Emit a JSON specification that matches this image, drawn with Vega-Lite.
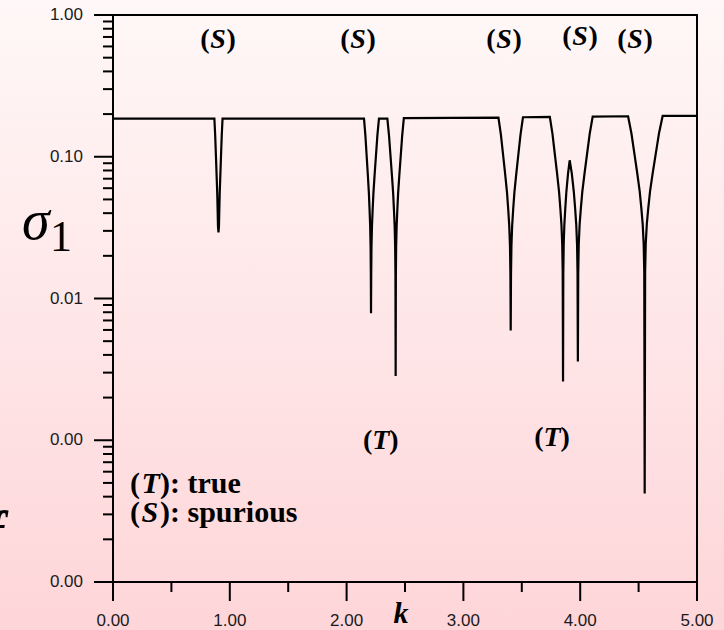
{
  "$schema": "https://vega.github.io/schema/vega-lite/v6.json",
  "width": 584,
  "height": 567,
  "autosize": {"type": "none"},
  "padding": {"left": 113, "top": 15, "right": 27, "bottom": 48},
  "background": "#fde8ea",
  "config": {"view": {"stroke": null}},
  "datasets": {
    "sigma": [
      {"k": 0, "s": 0.186}, {"k": 0.868, "s": 0.186}, {"k": 0.875, "s": 0.141}, {"k": 0.882, "s": 0.0976},
      {"k": 0.887, "s": 0.074}, {"k": 0.8925, "s": 0.0549}, {"k": 0.896, "s": 0.0416}, {"k": 0.8988, "s": 0.0323},
      {"k": 0.903, "s": 0.0292}, {"k": 0.9072, "s": 0.0323}, {"k": 0.91, "s": 0.0416}, {"k": 0.9135, "s": 0.0549},
      {"k": 0.919, "s": 0.074}, {"k": 0.924, "s": 0.0976}, {"k": 0.931, "s": 0.141}, {"k": 0.938, "s": 0.186},
      {"k": 2.149, "s": 0.186}, {"k": 2.161, "s": 0.141}, {"k": 2.173, "s": 0.0976}, {"k": 2.182, "s": 0.074},
      {"k": 2.191, "s": 0.0549}, {"k": 2.197, "s": 0.0416}, {"k": 2.2018, "s": 0.0323}, {"k": 2.2054, "s": 0.0234},
      {"k": 2.2075, "s": 0.01477}, {"k": 2.209, "s": 0.00787}, {"k": 2.2107, "s": 0.01477}, {"k": 2.2131, "s": 0.0234},
      {"k": 2.2172, "s": 0.0323}, {"k": 2.2226, "s": 0.0416}, {"k": 2.2294, "s": 0.0549}, {"k": 2.2396, "s": 0.074},
      {"k": 2.2498, "s": 0.0976}, {"k": 2.2634, "s": 0.141}, {"k": 2.277, "s": 0.186}, {"k": 2.349, "s": 0.186},
      {"k": 2.3632, "s": 0.141}, {"k": 2.3774, "s": 0.0976}, {"k": 2.388, "s": 0.074}, {"k": 2.3987, "s": 0.0549},
      {"k": 2.4058, "s": 0.0416}, {"k": 2.4115, "s": 0.0323}, {"k": 2.4157, "s": 0.0234}, {"k": 2.4182, "s": 0.01477},
      {"k": 2.42, "s": 0.00284}, {"k": 2.4218, "s": 0.01477}, {"k": 2.4242, "s": 0.0234}, {"k": 2.4284, "s": 0.0323},
      {"k": 2.434, "s": 0.0416}, {"k": 2.441, "s": 0.0549}, {"k": 2.4515, "s": 0.074}, {"k": 2.462, "s": 0.0976},
      {"k": 2.476, "s": 0.141}, {"k": 2.49, "s": 0.187}, {"k": 2.9, "s": 0.188}, {"k": 3.3, "s": 0.189},
      {"k": 3.321, "s": 0.1434}, {"k": 3.342, "s": 0.0992}, {"k": 3.3578, "s": 0.0752}, {"k": 3.3735, "s": 0.0558},
      {"k": 3.384, "s": 0.0423}, {"k": 3.3924, "s": 0.0328}, {"k": 3.3987, "s": 0.0238}, {"k": 3.4024, "s": 0.015},
      {"k": 3.405, "s": 0.00594}, {"k": 3.4076, "s": 0.015}, {"k": 3.4113, "s": 0.0238}, {"k": 3.4176, "s": 0.0328},
      {"k": 3.426, "s": 0.0423}, {"k": 3.4365, "s": 0.0558}, {"k": 3.4522, "s": 0.0752}, {"k": 3.468, "s": 0.0992},
      {"k": 3.489, "s": 0.1434}, {"k": 3.51, "s": 0.19}, {"k": 3.74, "s": 0.191}, {"k": 3.7626, "s": 0.1449},
      {"k": 3.7852, "s": 0.1002}, {"k": 3.8022, "s": 0.076}, {"k": 3.8191, "s": 0.0564}, {"k": 3.8304, "s": 0.0428},
      {"k": 3.8394, "s": 0.0332}, {"k": 3.8462, "s": 0.024}, {"k": 3.8502, "s": 0.01517}, {"k": 3.853, "s": 0.0026},
      {"k": 3.8554, "s": 0.01517}, {"k": 3.8587, "s": 0.024}, {"k": 3.8644, "s": 0.0332}, {"k": 3.872, "s": 0.0428},
      {"k": 3.8815, "s": 0.0564}, {"k": 3.8958, "s": 0.076}, {"k": 3.91, "s": 0.0944}, {"k": 3.9283, "s": 0.076},
      {"k": 3.9455, "s": 0.0564}, {"k": 3.957, "s": 0.0428}, {"k": 3.9662, "s": 0.0332}, {"k": 3.9731, "s": 0.024},
      {"k": 3.9771, "s": 0.01517}, {"k": 3.98, "s": 0.0036}, {"k": 3.9832, "s": 0.0152}, {"k": 3.9876, "s": 0.0242},
      {"k": 3.9952, "s": 0.0334}, {"k": 4.0054, "s": 0.043}, {"k": 4.0181, "s": 0.0567}, {"k": 4.0372, "s": 0.0764},
      {"k": 4.0562, "s": 0.1008}, {"k": 4.0816, "s": 0.1457}, {"k": 4.107, "s": 0.192}, {"k": 4.41, "s": 0.193},
      {"k": 4.4384, "s": 0.1464}, {"k": 4.4668, "s": 0.1013}, {"k": 4.4881, "s": 0.0768}, {"k": 4.5094, "s": 0.057},
      {"k": 4.5236, "s": 0.0432}, {"k": 4.535, "s": 0.0335}, {"k": 4.5435, "s": 0.0243}, {"k": 4.5485, "s": 0.01532},
      {"k": 4.552, "s": 0.000421}, {"k": 4.5559, "s": 0.0154}, {"k": 4.5612, "s": 0.0244}, {"k": 4.5705, "s": 0.0337},
      {"k": 4.5828, "s": 0.0434}, {"k": 4.5982, "s": 0.0573}, {"k": 4.6213, "s": 0.0772}, {"k": 4.6444, "s": 0.1018},
      {"k": 4.6752, "s": 0.1472}, {"k": 4.706, "s": 0.194}, {"k": 5.0, "s": 0.194}
    ],
    "tags": [
      {"lab": "S", "k": 0.899, "s": 0.666},
      {"lab": "S", "k": 2.098, "s": 0.666},
      {"lab": "S", "k": 3.348, "s": 0.666},
      {"lab": "S", "k": 3.998, "s": 0.699},
      {"lab": "S", "k": 4.469, "s": 0.666},
      {"lab": "T", "k": 2.292, "s": 0.00099},
      {"lab": "T", "k": 3.759, "s": 0.00104}
    ],
    "notes": [
      {"lab": "T", "rest": "): true", "k": 0.1455, "s": 0.000426},
      {"lab": "S", "rest": "): spurious", "k": 0.1455, "s": 0.000265}
    ],
    "xmajor": [{"v": 0}, {"v": 1}, {"v": 2}, {"v": 3}, {"v": 4}, {"v": 5}],
    "ymajor": [{"v": 1}, {"v": 0.1}, {"v": 0.01}, {"v": 0.001}, {"v": 0.0001}],
    "xminor": [{"v": 0.5}, {"v": 1.5}, {"v": 2.5}, {"v": 3.5}, {"v": 4.5}],
    "yminor": [
      {"v": 0.9}, {"v": 0.8}, {"v": 0.7}, {"v": 0.6}, {"v": 0.5}, {"v": 0.4}, {"v": 0.3}, {"v": 0.2},
      {"v": 0.09}, {"v": 0.08}, {"v": 0.07}, {"v": 0.06}, {"v": 0.05}, {"v": 0.04}, {"v": 0.03}, {"v": 0.02},
      {"v": 0.009}, {"v": 0.008}, {"v": 0.007}, {"v": 0.006}, {"v": 0.005}, {"v": 0.004}, {"v": 0.003}, {"v": 0.002},
      {"v": 0.0009}, {"v": 0.0008}, {"v": 0.0007}, {"v": 0.0006}, {"v": 0.0005}, {"v": 0.0004}, {"v": 0.0003}, {"v": 0.0002}
    ]
  },
  "layer": [
    {
      "data": {"values": [{}]},
      "mark": {
        "type": "rect",
        "clip": false,
        "fill": {
          "gradient": "linear", "x1": 0, "y1": 0, "x2": 0, "y2": 1,
          "stops": [{"offset": 0, "color": "#fff8f8"}, {"offset": 1, "color": "#fed5d8"}]
        }
      },
      "encoding": {
        "x": {"datum": -1.0, "type": "quantitative", "scale": {"domain": [0, 5], "nice": false, "zero": false}, "axis": null},
        "x2": {"datum": 5.3},
        "y": {"datum": 1.4, "type": "quantitative", "scale": {"type": "log", "domain": [0.0001, 1], "nice": false}, "axis": null},
        "y2": {"datum": 0.00004}
      }
    },
    {
      "data": {"name": "sigma"},
      "mark": {"type": "line", "color": "black", "strokeWidth": 2.2, "clip": true},
      "encoding": {
        "x": {"field": "k", "type": "quantitative", "scale": {"domain": [0, 5], "nice": false, "zero": false}, "axis": null},
        "y": {"field": "s", "type": "quantitative", "scale": {"type": "log", "domain": [0.0001, 1], "nice": false}, "axis": null}
      }
    },
    {
      "data": {"name": "xmajor"},
      "mark": {"type": "rule", "color": "black", "strokeWidth": 2, "clip": false},
      "encoding": {
        "x": {"field": "v", "type": "quantitative", "axis": null},
        "y": {"datum": 0.0001, "type": "quantitative", "axis": null},
        "y2": {"datum": 0.0000734}
      }
    },
    {
      "data": {"name": "xmajor"},
      "mark": {"type": "text", "align": "center", "baseline": "middle", "font": "Liberation Sans", "fontSize": 17, "color": "#1a1a1a", "clip": false},
      "encoding": {
        "x": {"field": "v", "type": "quantitative", "axis": null},
        "y": {"datum": 0.000053, "type": "quantitative", "axis": null},
        "text": {"field": "v", "type": "quantitative", "format": ".2f"}
      }
    },
    {
      "data": {"name": "xminor"},
      "mark": {"type": "rule", "color": "black", "strokeWidth": 2, "clip": false},
      "encoding": {
        "x": {"field": "v", "type": "quantitative", "axis": null},
        "y": {"datum": 0.0001, "type": "quantitative", "axis": null},
        "y2": {"datum": 0.00008497}
      }
    },
    {
      "data": {"name": "ymajor"},
      "mark": {"type": "rule", "color": "black", "strokeWidth": 2, "clip": false},
      "encoding": {
        "y": {"field": "v", "type": "quantitative", "axis": null},
        "x": {"datum": 0, "type": "quantitative", "axis": null},
        "x2": {"datum": -0.1627}
      }
    },
    {
      "data": {"name": "ymajor"},
      "mark": {"type": "text", "align": "right", "baseline": "middle", "font": "Liberation Sans", "fontSize": 17, "color": "#1a1a1a", "clip": false},
      "encoding": {
        "y": {"field": "v", "type": "quantitative", "axis": null},
        "x": {"datum": -0.2568, "type": "quantitative", "axis": null},
        "text": {"field": "v", "type": "quantitative", "format": ".2f"}
      }
    },
    {
      "data": {"name": "yminor"},
      "mark": {"type": "rule", "color": "black", "strokeWidth": 2, "clip": false},
      "encoding": {
        "y": {"field": "v", "type": "quantitative", "axis": null},
        "x": {"datum": 0, "type": "quantitative", "axis": null},
        "x2": {"datum": -0.0856}
      }
    },
    {
      "data": {"values": [{}]},
      "mark": {"type": "rect", "clip": false, "fill": "transparent", "stroke": "black", "strokeWidth": 2},
      "encoding": {
        "x": {"datum": 0, "type": "quantitative", "axis": null},
        "x2": {"datum": 5},
        "y": {"datum": 1, "type": "quantitative", "axis": null},
        "y2": {"datum": 0.0001}
      }
    },
    {
      "data": {"name": "tags"},
      "mark": {"type": "text", "text": "(", "align": "right", "baseline": "middle", "dx": -8.5, "font": "Liberation Serif", "fontSize": 28, "fontWeight": "bold", "color": "black", "clip": false},
      "encoding": {
        "x": {"field": "k", "type": "quantitative", "axis": null},
        "y": {"field": "s", "type": "quantitative", "axis": null}
      }
    },
    {
      "data": {"name": "tags"},
      "mark": {"type": "text", "align": "center", "baseline": "middle", "font": "Liberation Serif", "fontSize": 28, "fontWeight": "bold", "fontStyle": "italic", "color": "black", "clip": false},
      "encoding": {
        "x": {"field": "k", "type": "quantitative", "axis": null},
        "y": {"field": "s", "type": "quantitative", "axis": null},
        "text": {"field": "lab"}
      }
    },
    {
      "data": {"name": "tags"},
      "mark": {"type": "text", "text": ")", "align": "left", "baseline": "middle", "dx": 8.5, "font": "Liberation Serif", "fontSize": 28, "fontWeight": "bold", "color": "black", "clip": false},
      "encoding": {
        "x": {"field": "k", "type": "quantitative", "axis": null},
        "y": {"field": "s", "type": "quantitative", "axis": null}
      }
    },
    {
      "data": {"name": "notes"},
      "mark": {"type": "text", "text": "(", "align": "left", "baseline": "alphabetic", "font": "Liberation Serif", "fontSize": 30, "fontWeight": "bold", "color": "black", "clip": false},
      "encoding": {
        "x": {"field": "k", "type": "quantitative", "axis": null},
        "y": {"field": "s", "type": "quantitative", "axis": null}
      }
    },
    {
      "data": {"name": "notes"},
      "mark": {"type": "text", "align": "left", "baseline": "alphabetic", "dx": 11.5, "font": "Liberation Serif", "fontSize": 30, "fontWeight": "bold", "fontStyle": "italic", "color": "black", "clip": false},
      "encoding": {
        "x": {"field": "k", "type": "quantitative", "axis": null},
        "y": {"field": "s", "type": "quantitative", "axis": null},
        "text": {"field": "lab"}
      }
    },
    {
      "data": {"name": "notes"},
      "mark": {"type": "text", "align": "left", "baseline": "alphabetic", "dx": 30, "font": "Liberation Serif", "fontSize": 30, "fontWeight": "bold", "color": "black", "clip": false},
      "encoding": {
        "x": {"field": "k", "type": "quantitative", "axis": null},
        "y": {"field": "s", "type": "quantitative", "axis": null},
        "text": {"field": "rest"}
      }
    },
    {
      "data": {"values": [{}]},
      "mark": {"type": "text", "text": "σ", "align": "center", "baseline": "alphabetic", "font": "Liberation Serif", "fontSize": 56, "fontStyle": "italic", "color": "black", "clip": false},
      "encoding": {
        "x": {"datum": -0.66, "type": "quantitative", "axis": null},
        "y": {"datum": 0.0265, "type": "quantitative", "axis": null}
      }
    },
    {
      "data": {"values": [{}]},
      "mark": {"type": "text", "text": "1", "align": "center", "baseline": "alphabetic", "font": "Liberation Serif", "fontSize": 44, "color": "black", "clip": false},
      "encoding": {
        "x": {"datum": -0.445, "type": "quantitative", "axis": null},
        "y": {"datum": 0.0218, "type": "quantitative", "axis": null}
      }
    },
    {
      "data": {"values": [{}]},
      "mark": {"type": "text", "text": "k", "align": "center", "baseline": "alphabetic", "font": "Liberation Serif", "fontSize": 30, "fontWeight": "bold", "fontStyle": "italic", "color": "black", "clip": false},
      "encoding": {
        "x": {"datum": 2.466, "type": "quantitative", "axis": null},
        "y": {"datum": 0.0000513, "type": "quantitative", "axis": null}
      }
    },
    {
      "data": {"values": [{}]},
      "mark": {"type": "text", "text": "f", "align": "right", "baseline": "alphabetic", "font": "Liberation Serif", "fontSize": 56, "fontWeight": "bold", "fontStyle": "italic", "color": "black", "clip": false},
      "encoding": {
        "x": {"datum": -0.933, "type": "quantitative", "axis": null},
        "y": {"datum": 0.0001656, "type": "quantitative", "axis": null}
      }
    }
  ]
}
